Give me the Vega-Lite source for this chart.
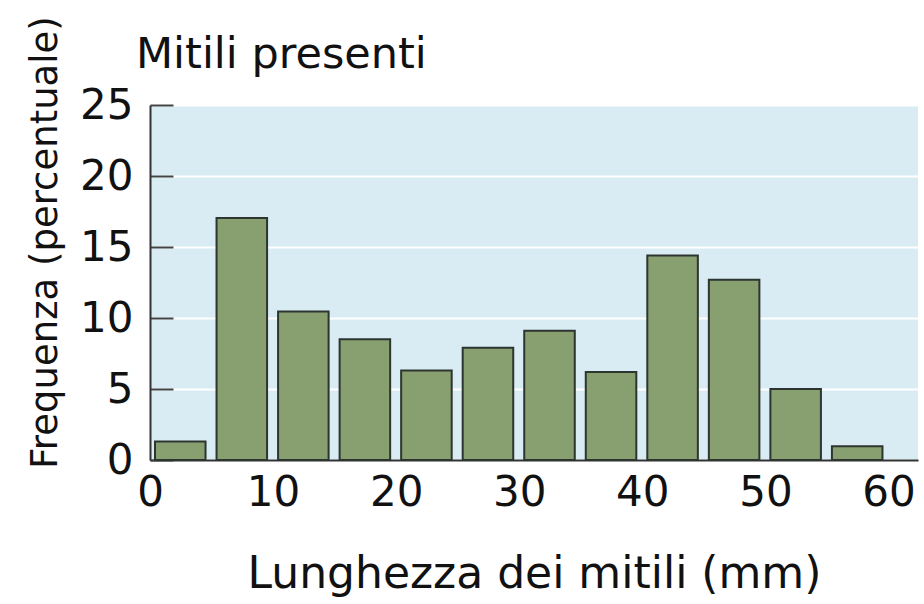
{
  "$schema": "https://vega.github.io/schema/vega-lite/v6.json",
  "autosize": "none",
  "width": 768,
  "height": 355,
  "padding": {"left": 150, "top": 105, "right": 6, "bottom": 144},
  "background": "white",
  "config": {
    "font": "DejaVu Sans",
    "view": {"fill": "#d9ecf4", "stroke": null}
  },
  "title": {
    "text": "Mitili presenti",
    "anchor": "start",
    "fontSize": 43,
    "fontWeight": "normal",
    "color": "#111",
    "dx": 110,
    "dy": 91,
    "offset": 30
  },
  "data": {
    "values": [
      {"start": 0, "end": 5, "freq": 1.3},
      {"start": 5, "end": 10, "freq": 17.05},
      {"start": 10, "end": 15, "freq": 10.45},
      {"start": 15, "end": 20, "freq": 8.5},
      {"start": 20, "end": 25, "freq": 6.3},
      {"start": 25, "end": 30, "freq": 7.9},
      {"start": 30, "end": 35, "freq": 9.1},
      {"start": 35, "end": 40, "freq": 6.2},
      {"start": 40, "end": 45, "freq": 14.4},
      {"start": 45, "end": 50, "freq": 12.7},
      {"start": 50, "end": 55, "freq": 5.0},
      {"start": 55, "end": 60, "freq": 0.96}
    ]
  },
  "mark": {
    "type": "bar",
    "fill": "#889f70",
    "stroke": "#2c3530",
    "strokeWidth": 2,
    "xOffset": 5,
    "x2Offset": -6
  },
  "encoding": {
    "x": {
      "field": "start",
      "type": "quantitative",
      "scale": {"domain": [0, 62.4], "nice": false, "zero": false},
      "axis": {
        "title": "Lunghezza dei mitili (mm)",
        "titleFontSize": 44,
        "titleFontWeight": "normal",
        "titleColor": "#111",
        "titlePadding": 39,
        "values": [0, 10, 20, 30, 40, 50, 60],
        "labelFontSize": 42,
        "labelColor": "#111",
        "labelPadding": 12,
        "ticks": false,
        "grid": false,
        "domainColor": "#333",
        "domainWidth": 2,
        "labelFlush": false
      }
    },
    "x2": {"field": "end"},
    "y": {
      "field": "freq",
      "type": "quantitative",
      "scale": {"domain": [0, 25], "nice": false},
      "axis": {
        "title": "Frequenza (percentuale)",
        "titleFontSize": 37,
        "titleFontWeight": "normal",
        "titleColor": "#111",
        "titleX": -105,
        "titleY": 137,
        "titleAngle": -90,
        "titleBaseline": "middle",
        "titleAlign": "center",
        "values": [0, 5, 10, 15, 20, 25],
        "labelFontSize": 42,
        "labelColor": "#111",
        "labelPadding": 40,
        "tickSize": -23,
        "tickColor": "#444",
        "tickWidth": 2,
        "grid": true,
        "gridColor": "white",
        "gridWidth": 2,
        "domainColor": "#333",
        "domainWidth": 2,
        "labelFlush": false
      }
    },
    "y2": {"datum": 0}
  }
}
